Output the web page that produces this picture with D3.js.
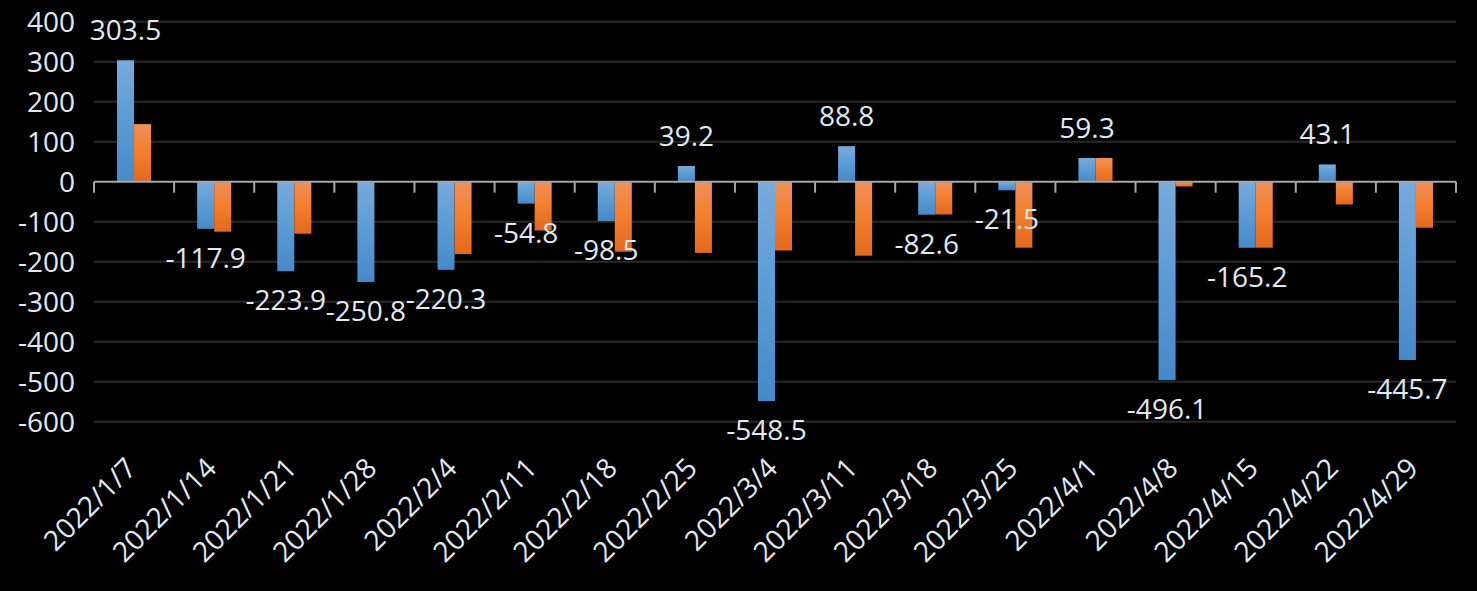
<!DOCTYPE html>
<html>
<head>
<meta charset="utf-8">
<script src="https://cdn.jsdelivr.net/npm/d3@7"></script>
<style>
  html, body { margin: 0; padding: 0; background: #000; }
  svg { display: block; }
  text { font-family: "Open Sans", "Noto Sans", sans-serif; }
</style>
</head>
<body>
<div id="chart"></div>
<script>
const categories = ["2022/1/7","2022/1/14","2022/1/21","2022/1/28","2022/2/4","2022/2/11","2022/2/18","2022/2/25","2022/3/4","2022/3/11","2022/3/18","2022/3/25","2022/4/1","2022/4/8","2022/4/15","2022/4/22","2022/4/29"];
const seriesA = [303.5,-117.9,-223.9,-250.8,-220.3,-54.8,-98.5,39.2,-548.5,88.8,-82.6,-21.5,59.3,-496.1,-165.2,43.1,-445.7];
const seriesB = [144,-125,-130,0,-181,-122,-175,-178,-172,-185,-82,-165,59.3,-12,-165,-57,-115];
const yTicks = [400,300,200,100,0,-100,-200,-300,-400,-500,-600];
const seriesNames = ["A","B"];

const W = 1477, H = 591;
const svg = d3.select("#chart").append("svg").attr("width", W).attr("height", H);

const defs = svg.append("defs");
function grad(id, stops) {
  const g = defs.append("linearGradient").attr("id", id).attr("x1", 0).attr("y1", 0).attr("x2", 0).attr("y2", 1);
  stops.forEach(s => g.append("stop").attr("offset", s[0]).attr("stop-color", s[1]));
}
grad("gBlue", [[0, "#78aadd"], [0.5, "#5b9bd5"], [1, "#4689ca"]]);
grad("gOrange", [[0, "#f09058"], [0.5, "#f37e2c"], [1, "#e3681d"]]);

const x0 = d3.scaleBand().domain(categories).range([94, 1456]).padding(0);
const x1 = d3.scaleBand().domain(seriesNames).range([0, x0.bandwidth()]).paddingInner(0).paddingOuter(1.353);
const y = d3.scaleLinear().domain([-600, 400]).range([421.7, 21.7]);

// gridlines
svg.append("g").selectAll("line").data(yTicks.filter(t => t !== 0)).join("line")
  .attr("x1", 94).attr("x2", 1456)
  .attr("y1", d => y(d)).attr("y2", d => y(d))
  .attr("stroke", "#282828").attr("stroke-width", 2);

// y labels
const yAxis = d3.axisLeft(y).tickValues(yTicks).tickSize(0).tickPadding(0).tickFormat(d => String(d));
const yg = svg.append("g").attr("transform", "translate(75,0)").call(yAxis);
yg.select(".domain").remove();
yg.selectAll("text").attr("fill", "#e2e9f1").style("font-size", "28px").attr("dy", "0.35em");

// bars
const data = categories.map((c, i) => ({cat: c, vals: [
  {s: "A", v: seriesA[i]}, {s: "B", v: seriesB[i]}
]}));
const groups = svg.append("g").selectAll("g").data(data).join("g")
  .attr("transform", d => `translate(${x0(d.cat)},0)`);
groups.selectAll("rect").data(d => d.vals.filter(e => e.v !== 0)).join("rect")
  .attr("x", d => x1(d.s))
  .attr("width", x1.bandwidth())
  .attr("y", d => y(Math.max(0, d.v)))
  .attr("height", d => Math.abs(y(d.v) - y(0)))
  .attr("fill", d => d.s === "A" ? "url(#gBlue)" : "url(#gOrange)");

// zero axis line with ticks
const xg = svg.append("g").attr("transform", `translate(0,${y(0)})`);
xg.append("line").attr("x1", 94).attr("x2", 1456).attr("y1", 0).attr("y2", 0)
  .attr("stroke", "#a6a6a6").attr("stroke-width", 2);
const bounds = categories.map(c => x0(c)).concat([x0(categories[categories.length - 1]) + x0.bandwidth()]);
xg.selectAll("line.tk").data(bounds).join("line").attr("class", "tk")
  .attr("x1", d => d).attr("x2", d => d).attr("y1", 0).attr("y2", 11)
  .attr("stroke", "#a6a6a6").attr("stroke-width", 2);

// x labels
svg.append("g").selectAll("text").data(categories).join("text")
  .attr("transform", d => `translate(${x0(d) + x0.bandwidth() / 2 + 4},470) rotate(-45)`)
  .attr("text-anchor", "end")
  .attr("fill", "#e2e9f1")
  .style("font-size", "28px")
  .text(d => d);

// data labels (series A)
svg.append("g").selectAll("text").data(data).join("text")
  .attr("x", d => x0(d.cat) + x1("A") + x1.bandwidth() / 2)
  .attr("y", d => d.vals[0].v >= 0 ? y(d.vals[0].v) - 20 : y(d.vals[0].v) + 39)
  .attr("text-anchor", "middle")
  .attr("fill", "#e2e9f1")
  .style("font-size", "28px")
  .text(d => d.vals[0].v.toFixed(1));
</script>
</body>
</html>
